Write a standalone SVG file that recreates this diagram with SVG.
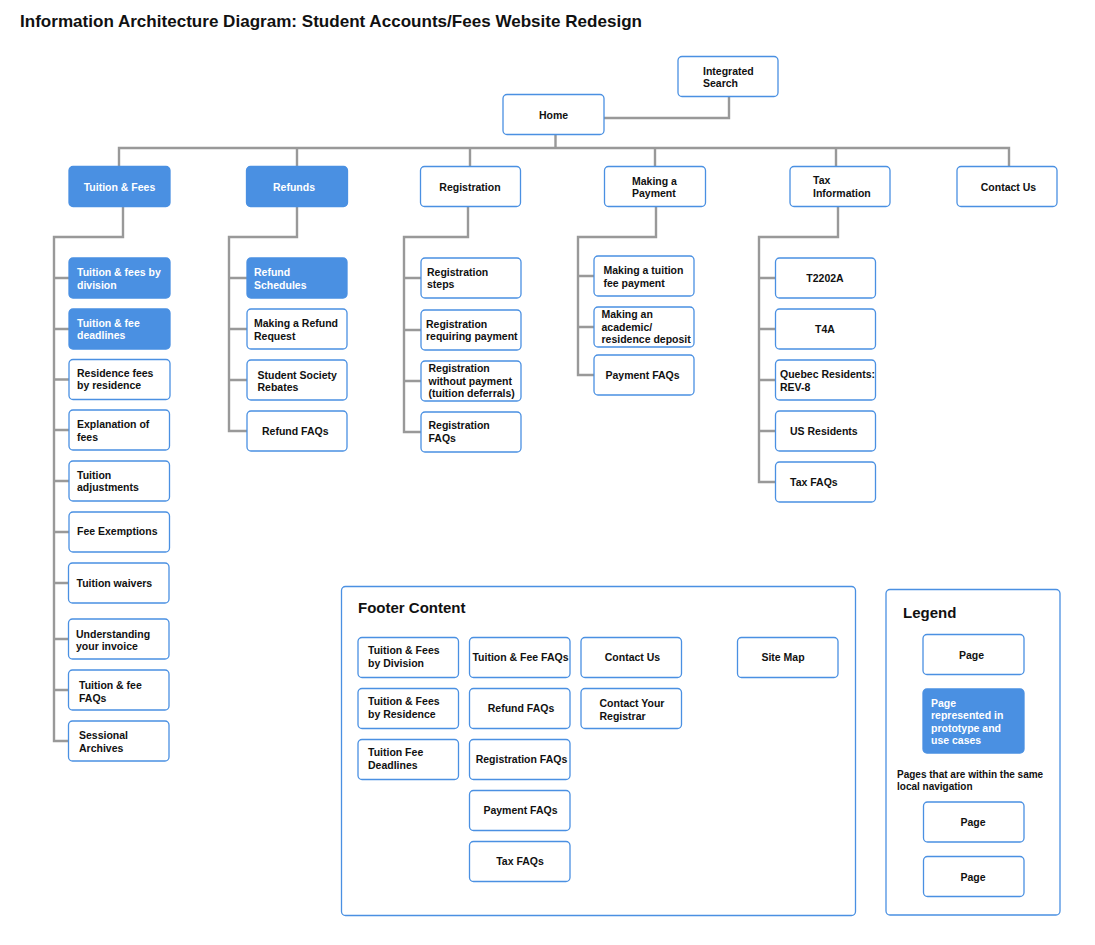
<svg xmlns="http://www.w3.org/2000/svg" width="1095" height="945" viewBox="0 0 1095 945">
<style>
text{font-family:"Liberation Sans",Arial,Helvetica,sans-serif;font-weight:bold;font-size:10.5px;fill:#111}
.c{text-anchor:middle}
.w{fill:#fff}
.pg{fill:#fff;stroke:#4a90e2;stroke-width:1.3}
.bl{fill:#4a90e2;stroke:#4a90e2;stroke-width:1.3}
.box{fill:#fff;stroke:#4a90e2;stroke-width:1.3}
.ln{fill:none;stroke:#999;stroke-width:2.4;stroke-linejoin:miter}
.h{font-size:15px}
.s{font-size:10px}
</style>
<rect width="1095" height="945" fill="#fff"/>
<text x="20" y="26.5" style="font-size:17px" textLength="622" lengthAdjust="spacingAndGlyphs">Information Architecture Diagram: Student Accounts/Fees Website Redesign</text>

<g id="connectors">
<path class="ln" d="M604,118 H729 V96"/>
<path class="ln" d="M555.5,134 V148"/>
<path class="ln" d="M119,166 V148 H1009 V166"/>
<path class="ln" d="M297,148 V166 M470,148 V166 M655,148 V166 M836,148 V166"/>
<path class="ln" d="M123,207 V237 H54 V741 H69 M54,278 H69 M54,329 H69 M54,379.5 H69 M54,430 H69 M54,481 H69 M54,532 H69 M54,583 H69 M54,639 H69 M54,690 H69"/>
<path class="ln" d="M297,207 V237 H229 V431 H247 M229,278 H247 M229,329 H247 M229,380 H247"/>
<path class="ln" d="M468,207 V237 H404 V432 H421 M404,278 H421 M404,330 H421 M404,381 H421"/>
<path class="ln" d="M656,207 V237 H578 V375 H594 M578,276 H594 M578,327 H594"/>
<path class="ln" d="M838,207 V237 H759 V482 H775 M759,278 H775 M759,329 H775 M759,380 H775 M759,431 H775"/>
<path class="ln" d="M923,822 H907 V877 H923"/>
</g>

<g id="n-integrated-search"><rect class="pg" x="678" y="56.5" width="100" height="40" rx="4"/><text x="703" y="74.5">Integrated</text><text x="703" y="87">Search</text></g>
<g id="n-home"><rect class="pg" x="503" y="94.5" width="101" height="40" rx="4"/><text class="c" x="553.5" y="118.5">Home</text></g>

<g id="n-tuition-fees"><rect class="bl" x="69" y="166.5" width="101" height="40" rx="4"/><text class="c w" x="119.5" y="190.5">Tuition &amp; Fees</text></g>
<g id="n-refunds"><rect class="bl" x="246.5" y="166.5" width="101" height="40" rx="4"/><text class="c w" x="294" y="190.5">Refunds</text></g>
<g id="n-registration"><rect class="pg" x="420.5" y="166.5" width="100" height="40" rx="4"/><text class="c" x="470" y="190.5">Registration</text></g>
<g id="n-making-payment"><rect class="pg" x="604.5" y="166.5" width="101" height="40" rx="4"/><text x="632" y="184.5">Making a</text><text x="632" y="197">Payment</text></g>
<g id="n-tax-information"><rect class="pg" x="790" y="166.5" width="100" height="40" rx="4"/><text x="813" y="184">Tax</text><text x="813" y="196.5">Information</text></g>
<g id="n-contact-us"><rect class="pg" x="957" y="166.5" width="100" height="40" rx="4"/><text class="c" x="1008.5" y="190.5">Contact Us</text></g>

<g id="n-tf-division"><rect class="bl" x="69" y="258" width="101" height="40" rx="4"/><text class="w" x="77" y="276">Tuition &amp; fees by</text><text class="w" x="77" y="288.5">division</text></g>
<g id="n-tf-deadlines"><rect class="bl" x="69" y="309" width="101" height="40" rx="4"/><text class="w" x="77" y="326.5">Tuition &amp; fee</text><text class="w" x="77" y="339">deadlines</text></g>
<g id="n-residence-fees"><rect class="pg" x="69" y="359.5" width="101" height="40" rx="4"/><text x="77" y="376.5">Residence fees</text><text x="77" y="389">by residence</text></g>
<g id="n-explanation"><rect class="pg" x="69" y="410" width="100.5" height="40" rx="4"/><text x="77" y="428">Explanation of</text><text x="77" y="440.5">fees</text></g>
<g id="n-adjustments"><rect class="pg" x="69" y="461" width="100.5" height="40" rx="4"/><text x="77" y="478.5">Tuition</text><text x="77" y="491">adjustments</text></g>
<g id="n-exemptions"><rect class="pg" x="69" y="512" width="100.5" height="40" rx="4"/><text x="77" y="534.5">Fee Exemptions</text></g>
<g id="n-waivers"><rect class="pg" x="68.5" y="563" width="100.5" height="40" rx="4"/><text x="76.5" y="586.5">Tuition waivers</text></g>
<g id="n-invoice"><rect class="pg" x="68.5" y="619" width="100.5" height="40" rx="4"/><text x="76" y="637.5">Understanding</text><text x="76" y="650">your invoice</text></g>
<g id="n-tf-faqs"><rect class="pg" x="68.5" y="670" width="100.5" height="40" rx="4"/><text x="79" y="689">Tuition &amp; fee</text><text x="79" y="701.5">FAQs</text></g>
<g id="n-sessional"><rect class="pg" x="68.5" y="721" width="100.5" height="40" rx="4"/><text x="79" y="739">Sessional</text><text x="79" y="751.5">Archives</text></g>

<g id="n-refund-schedules"><rect class="bl" x="247" y="258" width="100" height="40" rx="4"/><text class="w" x="254" y="276">Refund</text><text class="w" x="254" y="288.5">Schedules</text></g>
<g id="n-refund-request"><rect class="pg" x="247" y="309" width="100" height="40" rx="4"/><text x="254" y="327">Making a Refund</text><text x="254" y="339.5">Request</text></g>
<g id="n-society-rebates"><rect class="pg" x="247" y="360" width="100" height="40" rx="4"/><text x="257.5" y="378.5">Student Society</text><text x="257.5" y="391">Rebates</text></g>
<g id="n-refund-faqs"><rect class="pg" x="247" y="411" width="100" height="40" rx="4"/><text x="262" y="434.5">Refund FAQs</text></g>

<g id="n-reg-steps"><rect class="pg" x="421" y="258" width="100" height="40" rx="4"/><text x="427" y="275.5">Registration</text><text x="427" y="288">steps</text></g>
<g id="n-reg-requiring"><rect class="pg" x="421" y="310" width="100" height="40" rx="4"/><text x="426" y="328">Registration</text><text x="426" y="340">requiring payment</text></g>
<g id="n-reg-without"><rect class="pg" x="421" y="361" width="100" height="40" rx="4"/><text x="428.5" y="372">Registration</text><text x="428.5" y="384.5">without payment</text><text x="428.5" y="397">(tuition deferrals)</text></g>
<g id="n-reg-faqs"><rect class="pg" x="421" y="412" width="100" height="40" rx="4"/><text x="428.5" y="429">Registration</text><text x="428.5" y="441.5">FAQs</text></g>

<g id="n-tuition-payment"><rect class="pg" x="594" y="256" width="100" height="40" rx="4"/><text x="603.5" y="274">Making a tuition</text><text x="603.5" y="286.5">fee payment</text></g>
<g id="n-deposit"><rect class="pg" x="594" y="307" width="100" height="40" rx="4"/><text x="601.5" y="318">Making an</text><text x="601.5" y="330.5">academic/</text><text x="601.5" y="343">residence deposit</text></g>
<g id="n-payment-faqs"><rect class="pg" x="594" y="355" width="100" height="40" rx="4"/><text x="605.5" y="379">Payment FAQs</text></g>

<g id="n-t2202a"><rect class="pg" x="775.5" y="258" width="100" height="40" rx="4"/><text class="c" x="825" y="281.5">T2202A</text></g>
<g id="n-t4a"><rect class="pg" x="775.5" y="309" width="100" height="40" rx="4"/><text class="c" x="825" y="332.5">T4A</text></g>
<g id="n-quebec"><rect class="pg" x="775.5" y="360" width="100" height="40" rx="4"/><text x="780" y="378">Quebec Residents:</text><text x="780" y="391">REV-8</text></g>
<g id="n-us-residents"><rect class="pg" x="775.5" y="411" width="100" height="40" rx="4"/><text x="790" y="434.5">US Residents</text></g>
<g id="n-tax-faqs"><rect class="pg" x="775.5" y="462" width="100" height="40" rx="4"/><text x="790" y="485.5">Tax FAQs</text></g>

<g id="footer">
<rect class="box" x="341.5" y="586.5" width="514" height="329" rx="4"/>
<text class="h" x="358" y="613">Footer Content</text>
<g id="f-division"><rect class="pg" x="358" y="637.5" width="100.5" height="40" rx="4"/><text x="368" y="654">Tuition &amp; Fees</text><text x="368" y="666.5">by Division</text></g>
<g id="f-residence"><rect class="pg" x="358" y="688.5" width="100.5" height="40" rx="4"/><text x="368" y="705">Tuition &amp; Fees</text><text x="368" y="717.5">by Residence</text></g>
<g id="f-deadlines"><rect class="pg" x="358" y="739.5" width="100.5" height="40" rx="4"/><text x="368" y="756">Tuition Fee</text><text x="368" y="768.5">Deadlines</text></g>
<g id="f-tf-faqs"><rect class="pg" x="469.5" y="637.5" width="100.5" height="40" rx="4"/><text class="c" x="520.5" y="661">Tuition &amp; Fee FAQs</text></g>
<g id="f-refund-faqs"><rect class="pg" x="469.5" y="688.5" width="100.5" height="40" rx="4"/><text class="c" x="521" y="712">Refund FAQs</text></g>
<g id="f-reg-faqs"><rect class="pg" x="469.5" y="739.5" width="100.5" height="40" rx="4"/><text class="c" x="521.5" y="763">Registration FAQs</text></g>
<g id="f-payment-faqs"><rect class="pg" x="469.5" y="790.5" width="100.5" height="40" rx="4"/><text class="c" x="520.5" y="814">Payment FAQs</text></g>
<g id="f-tax-faqs"><rect class="pg" x="469.5" y="841.5" width="100.5" height="40" rx="4"/><text class="c" x="520" y="865">Tax FAQs</text></g>
<g id="f-contact"><rect class="pg" x="581" y="637.5" width="100.5" height="40" rx="4"/><text class="c" x="632.5" y="661">Contact Us</text></g>
<g id="f-registrar"><rect class="pg" x="581" y="688.5" width="100.5" height="40" rx="4"/><text x="599.5" y="707">Contact Your</text><text x="599.5" y="719.5">Registrar</text></g>
<g id="f-sitemap"><rect class="pg" x="737.5" y="637.5" width="100.5" height="40" rx="4"/><text class="c" x="783" y="661">Site Map</text></g>
</g>

<g id="legend">
<rect class="box" x="886" y="589.5" width="174" height="325.5" rx="4"/>
<text class="h" x="903" y="617.5">Legend</text>
<g id="l-page"><rect class="pg" x="923" y="634.5" width="101" height="40" rx="4"/><text class="c" x="971.5" y="658.5">Page</text></g>
<g id="l-proto"><rect class="bl" x="923" y="689" width="101" height="64" rx="4"/><text class="w" x="931" y="706.5">Page</text><text class="w" x="931" y="719">represented in</text><text class="w" x="931" y="731.5">prototype and</text><text class="w" x="931" y="744">use cases</text></g>
<text class="s" x="897" y="778">Pages that are within the same</text>
<text class="s" x="897" y="790">local navigation</text>
<g id="l-page2"><rect class="pg" x="923.5" y="802" width="100.5" height="40" rx="4"/><text class="c" x="973" y="826">Page</text></g>
<g id="l-page3"><rect class="pg" x="923.5" y="856.5" width="100.5" height="40" rx="4"/><text class="c" x="973" y="880.5">Page</text></g>
</g>
</svg>
